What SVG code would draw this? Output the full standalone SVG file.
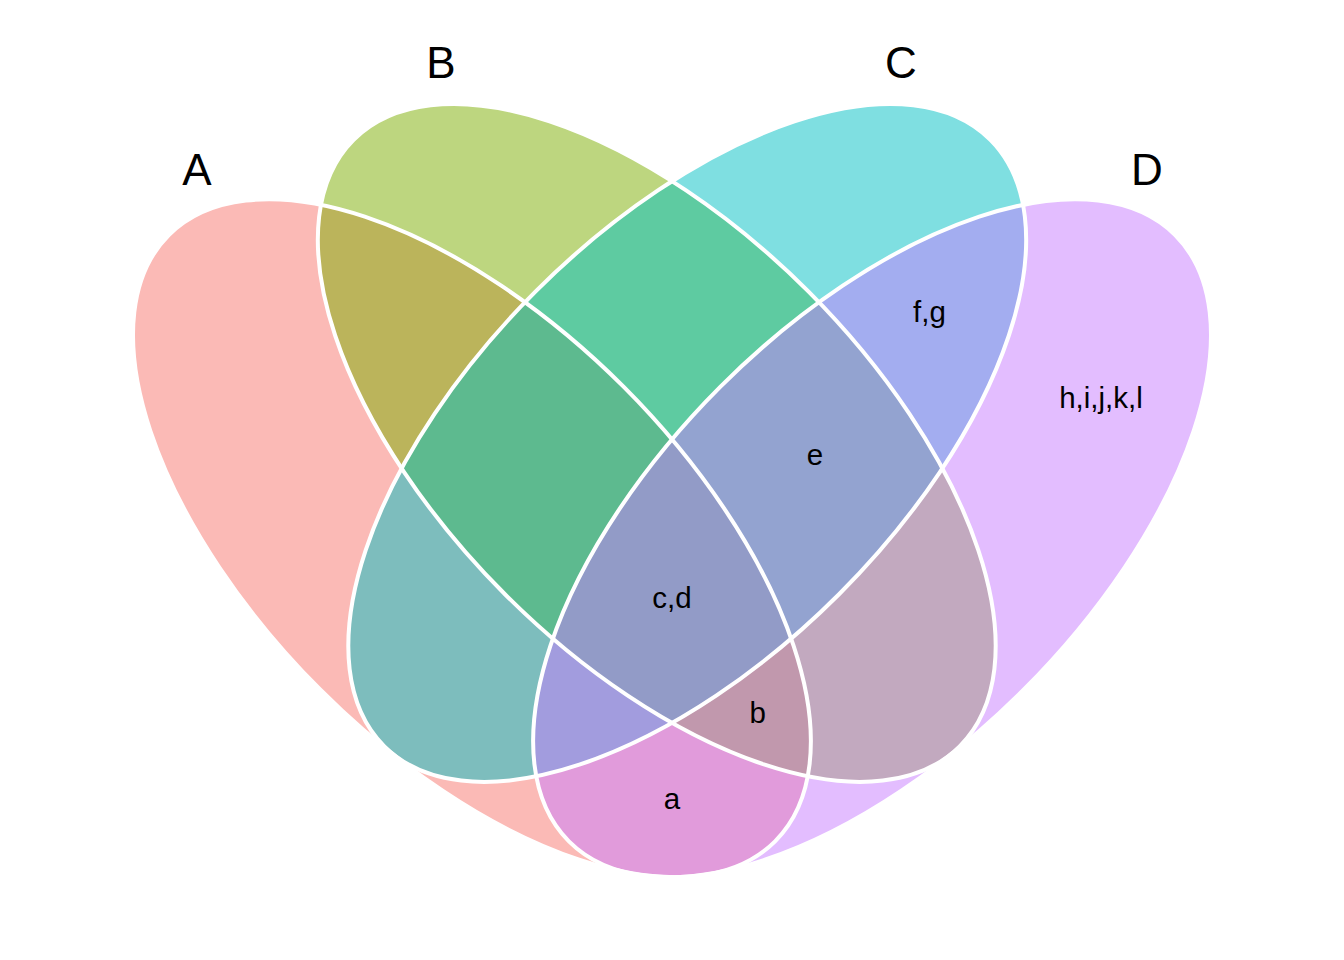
<svg xmlns="http://www.w3.org/2000/svg" width="1344" height="960" viewBox="0 0 1344 960">
  <style>
    .fill { fill-opacity: 0.5; stroke: none; }
    .edge { fill: none; stroke: #ffffff; stroke-width: 4; }
    .setname { font-family: "Liberation Sans", Arial, sans-serif; font-size: 44px; fill: #000000; text-anchor: middle; }
    .elem { font-family: "Liberation Sans", Arial, sans-serif; font-size: 29.5px; fill: #000000; text-anchor: middle; }
  </style>
  <rect x="0" y="0" width="1344" height="960" fill="#ffffff"/>
  <g id="set-A">
    <ellipse class="fill" fill="#F8766D" cx="0" cy="0" rx="214.35" ry="428.7" transform="translate(471.94 538.2) rotate(-45)"/>
    <text class="setname" x="197" y="185">A</text>
  </g>
  <g id="set-B">
    <ellipse class="fill" fill="#7CAE00" cx="0" cy="0" rx="214.35" ry="428.7" transform="translate(656.76 442.93) rotate(-45)"/>
    <text class="setname" x="441" y="78">B</text>
  </g>
  <g id="set-C">
    <ellipse class="fill" fill="#00BFC4" cx="0" cy="0" rx="214.35" ry="428.7" transform="translate(687.24 442.93) rotate(45)"/>
    <text class="setname" x="901" y="78">C</text>
  </g>
  <g id="set-D">
    <ellipse class="fill" fill="#C77CFF" cx="0" cy="0" rx="214.35" ry="428.7" transform="translate(872.06 538.2) rotate(45)"/>
    <text class="setname" x="1147" y="185">D</text>
  </g>
  <g id="connectors">
    <ellipse class="edge" cx="0" cy="0" rx="214.35" ry="428.7" transform="translate(471.94 538.2) rotate(-45)"/>
    <ellipse class="edge" cx="0" cy="0" rx="214.35" ry="428.7" transform="translate(656.76 442.93) rotate(-45)"/>
    <ellipse class="edge" cx="0" cy="0" rx="214.35" ry="428.7" transform="translate(687.24 442.93) rotate(45)"/>
    <ellipse class="edge" cx="0" cy="0" rx="214.35" ry="428.7" transform="translate(872.06 538.2) rotate(45)"/>
  </g>
  <g id="region-labels">
    <text class="elem" x="672" y="808.6">a</text>
    <text class="elem" x="757.8" y="722.8">b</text>
    <text class="elem" x="672" y="608.4">c,d</text>
    <text class="elem" x="815" y="465.4">e</text>
    <text class="elem" x="929.4" y="322.4">f,g</text>
    <text class="elem" x="1101" y="408.2">h,i,j,k,l</text>
  </g>
</svg>
